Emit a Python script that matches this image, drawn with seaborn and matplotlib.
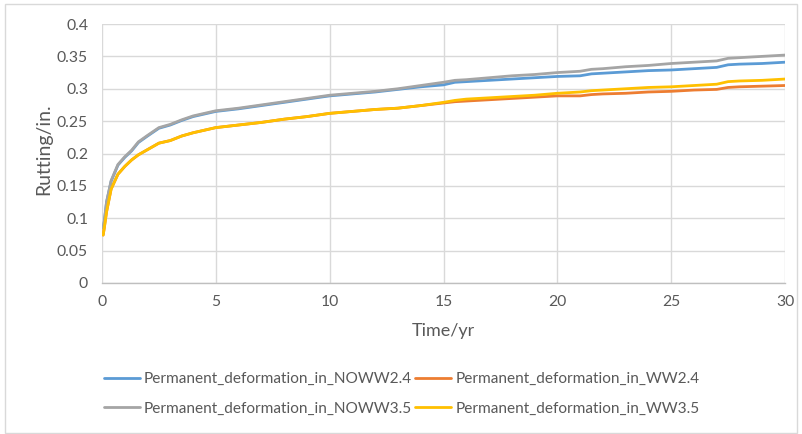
import numpy as np
import pandas as pd
import matplotlib
matplotlib.use("Agg")
import matplotlib.pyplot as plt
import seaborn as sns
from matplotlib.patches import Rectangle

# Data
time_yr = [0.05, 0.1, 0.2, 0.4, 0.7, 1.0, 1.3, 1.6, 2.0, 2.5, 3.0, 3.5, 4.0, 4.5, 5.0,
           6, 7, 8, 9, 10, 11, 12, 13, 14, 15, 15.5, 16, 17, 18, 19, 20,
           21, 21.5, 22, 23, 24, 25, 26, 27, 27.5, 28, 29, 30]

noww_24 = [0.085, 0.095, 0.125, 0.157, 0.182, 0.194, 0.204, 0.217, 0.227, 0.239, 0.244, 0.251, 0.257, 0.261, 0.265,
           0.269, 0.274, 0.279, 0.284, 0.289, 0.292, 0.295, 0.299, 0.303, 0.306, 0.310, 0.311, 0.313, 0.315, 0.317, 0.319,
           0.320, 0.323, 0.324, 0.326, 0.328, 0.329, 0.331, 0.333, 0.337, 0.338, 0.339, 0.341]

ww_24 = [0.074, 0.085, 0.110, 0.145, 0.168, 0.180, 0.190, 0.198, 0.206, 0.216, 0.220, 0.227, 0.232, 0.236, 0.240,
         0.244, 0.248, 0.253, 0.257, 0.262, 0.265, 0.268, 0.270, 0.274, 0.278, 0.280, 0.281, 0.283, 0.285, 0.287, 0.289,
         0.289, 0.291, 0.292, 0.293, 0.295, 0.296, 0.298, 0.299, 0.302, 0.303, 0.304, 0.305]

noww_35 = [0.085, 0.095, 0.125, 0.158, 0.183, 0.195, 0.205, 0.218, 0.228, 0.240, 0.245, 0.252, 0.258, 0.262, 0.266,
           0.270, 0.275, 0.280, 0.285, 0.290, 0.293, 0.296, 0.300, 0.305, 0.310, 0.313, 0.314, 0.317, 0.320, 0.322, 0.325,
           0.327, 0.330, 0.331, 0.334, 0.336, 0.339, 0.341, 0.343, 0.347, 0.348, 0.350, 0.352]

ww_35 = [0.074, 0.085, 0.110, 0.145, 0.168, 0.180, 0.190, 0.198, 0.206, 0.216, 0.220, 0.227, 0.232, 0.236, 0.240,
         0.244, 0.248, 0.253, 0.257, 0.262, 0.265, 0.268, 0.270, 0.274, 0.279, 0.282, 0.284, 0.286, 0.288, 0.290, 0.293,
         0.295, 0.297, 0.298, 0.300, 0.302, 0.303, 0.305, 0.307, 0.311, 0.312, 0.313, 0.315]

series_names = ["Permanent_deformation_in_NOWW2.4", "Permanent_deformation_in_WW2.4",
                "Permanent_deformation_in_NOWW3.5", "Permanent_deformation_in_WW3.5"]
colors = ["#5B9BD5", "#ED7D31", "#A5A5A5", "#FFC000"]

x_ticks = [0, 5, 10, 15, 20, 25, 30]
y_ticks = [0, 0.05, 0.1, 0.15, 0.2, 0.25, 0.3, 0.35, 0.4]
y_tick_labels = ["0", "0.05", "0.1", "0.15", "0.2", "0.25", "0.3", "0.35", "0.4"]

# long-form table for seaborn
frames = []
for name, vals in zip(series_names, [noww_24, ww_24, noww_35, ww_35]):
    frames.append(pd.DataFrame({"Time": time_yr, "Rutting": vals, "Series": name}))
df = pd.concat(frames, ignore_index=True)

sns.set_style("white")
plt.rcParams["font.family"] = ["Lato", "DejaVu Sans"]

fig = plt.figure(figsize=(8.02, 4.34), dpi=100)
ax = fig.add_axes([102 / 802, 1 - 283 / 434, 683 / 802, 259 / 434])

sns.lineplot(data=df, x="Time", y="Rutting", hue="Series", hue_order=series_names,
             palette=colors, linewidth=2.0, ax=ax, legend=False)

ax.set_xlim(0, 30)
ax.set_ylim(0, 0.4)
ax.set_xticks(x_ticks)
ax.set_yticks(y_ticks)
ax.set_yticklabels(y_tick_labels)
ax.grid(True, color="#d9d9d9", linewidth=1.0)
ax.set_axisbelow(True)
for side in ["top", "right", "left"]:
    ax.spines[side].set_visible(False)
ax.spines["bottom"].set_color("#bfbfbf")
ax.spines["bottom"].set_linewidth(1.0)
ax.tick_params(axis="x", colors="#bfbfbf", length=5, width=1, labelcolor="#595959", labelsize=11.3, pad=4)
ax.tick_params(axis="y", length=0, labelcolor="#595959", labelsize=11.3, pad=10)

ax.set_xlabel("Time/yr", fontsize=13, color="#595959")
ax.set_ylabel("Rutting/in.", fontsize=14, color="#595959")
ax.xaxis.set_label_coords(0.5, -0.154)
ax.yaxis.set_label_coords(-0.073, 0.515)

# legend filled row by row like the reference
order = [0, 2, 1, 3]
handles = [plt.Line2D([], [], color=colors[i], linewidth=2.0) for i in order]
labels = [series_names[i] for i in order]
fig.legend(handles, labels, loc="center", bbox_to_anchor=(0.501, 0.092), ncol=2,
           frameon=False, fontsize=11.1, labelcolor="#595959", handlelength=2.34,
           handletextpad=0.26, columnspacing=0.2, labelspacing=1.0)

# outer chart border
fig.patches.append(Rectangle((5 / 802, 1 - 433 / 434), 792 / 802, 429 / 434,
                             transform=fig.transFigure, fill=False,
                             edgecolor="#d9d9d9", linewidth=1.0))

fig.savefig("out.png", dpi=100)
